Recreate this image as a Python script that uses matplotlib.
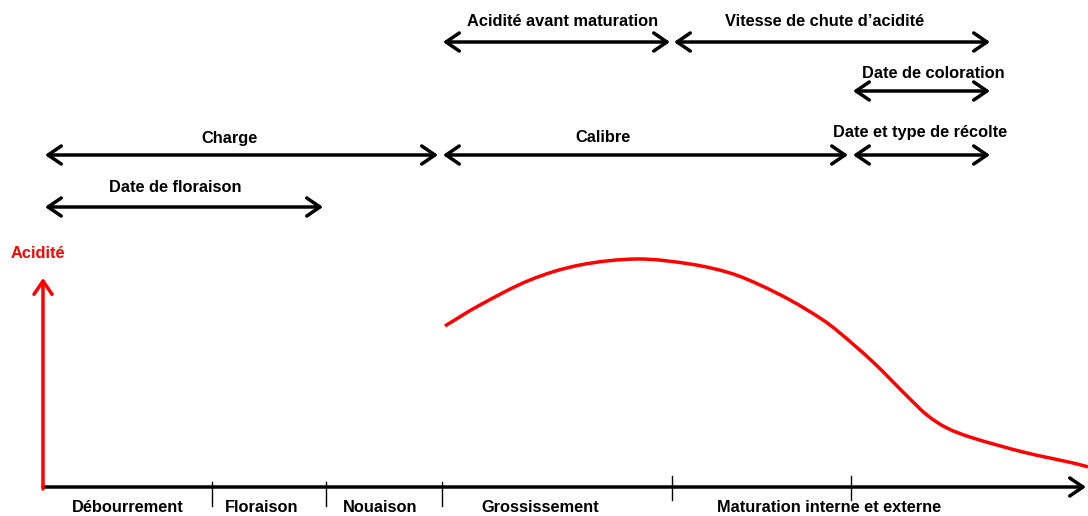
import matplotlib
matplotlib.use("Agg")
import matplotlib.pyplot as plt
from matplotlib.path import Path
from matplotlib.patches import PathPatch

plt.rcParams['font.family'] = ['Liberation Sans', 'DejaVu Sans']

# stades phénologiques (bornes et libellés)
stade_bornes = [212, 326, 442, 672, 851]
stade_noms = ['Débourrement', 'Floraison', 'Nouaison', 'Grossissement',
              'Maturation interne et externe']
stade_centres = [128, 262, 380, 540, 829]

# facteurs : début, fin, hauteur, libellé
fact_debut = [443, 674, 853, 45, 443, 853, 45]
fact_fin = [670, 990, 990, 438, 848, 990, 323]
fact_y = [42, 42, 91, 155, 155, 155, 207]
fact_noms = ['Acidité avant maturation', 'Vitesse de chute d\u2019acidité',
             'Date de coloration', 'Charge', 'Calibre',
             'Date et type de récolte', 'Date de floraison']
fact_lab_x = [563, 825, 933, 230, 603, 920, 175]
fact_lab_y = [21, 21, 74, 138, 138, 132, 188]

# courbe d'acidité
acid_x = [445, 480, 530, 580, 637, 690, 730, 760, 790, 820, 840, 873, 907,
          927, 947, 973, 1023, 1073, 1088]
acid_y = [326, 305, 280, 265, 259, 264, 273, 285, 300, 318, 333, 362, 396,
          415, 428, 438, 452, 463, 467]

fig = plt.figure(figsize=(10.88, 5.16), dpi=100)
ax = fig.add_axes([0, 0, 1, 1])
ax.set_xlim(0, 1088)
ax.set_ylim(516, 0)
ax.axis('off')

fs = 11.8
tete = ',head_length=0.95,head_width=0.65'

# axe du temps
ax.annotate('', xy=(1086, 487), xytext=(43, 487),
            arrowprops=dict(arrowstyle='->' + tete,
                            lw=2.5, color='black', shrinkA=0, shrinkB=0))
for b in stade_bornes:
    if b > 600:
        ax.plot([b, b], [476, 500], color='black', lw=1)
    else:
        ax.plot([b, b], [482, 506], color='black', lw=1)
for c, n in zip(stade_centres, stade_noms):
    ax.text(c, 507, n, ha='center', va='center', fontsize=fs,
            fontweight='bold')

# axe acidité
ax.annotate('', xy=(43, 278), xytext=(43, 489),
            arrowprops=dict(arrowstyle='->' + tete,
                            lw=2.5, color='red', shrinkA=0, shrinkB=0))
ax.text(38, 254, 'Acidité', ha='center', va='center', fontsize=fs,
        fontweight='bold', color='red')

# facteurs
for d, f, y, n, lx, ly in zip(fact_debut, fact_fin, fact_y, fact_noms,
                              fact_lab_x, fact_lab_y):
    ax.annotate('', xy=(f, y), xytext=(d, y),
                arrowprops=dict(arrowstyle='<->' + tete,
                                lw=2.5, color='black', shrinkA=0, shrinkB=0))
    ax.text(lx, ly, n, ha='center', va='center', fontsize=fs,
            fontweight='bold')

# courbe lissée (Catmull-Rom -> Bézier) passant par les points lus
pts = list(zip(acid_x, acid_y))
verts = [pts[0]]
codes = [Path.MOVETO]
for i in range(len(pts) - 1):
    p0 = pts[i - 1] if i > 0 else pts[i]
    p1, p2 = pts[i], pts[i + 1]
    p3 = pts[i + 2] if i + 2 < len(pts) else pts[i + 1]
    c1 = (p1[0] + (p2[0] - p0[0]) / 6, p1[1] + (p2[1] - p0[1]) / 6)
    c2 = (p2[0] - (p3[0] - p1[0]) / 6, p2[1] - (p3[1] - p1[1]) / 6)
    verts += [c1, c2, p2]
    codes += [Path.CURVE4] * 3
ax.add_patch(PathPatch(Path(verts, codes), fill=False, edgecolor='red',
                       lw=2.5, capstyle='butt'))

fig.savefig('out.png', dpi=100)
